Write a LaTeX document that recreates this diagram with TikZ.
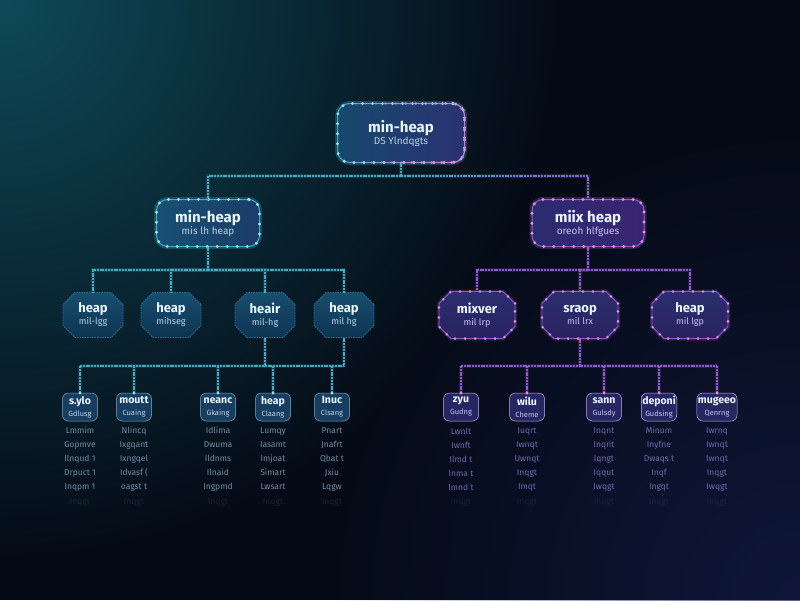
\documentclass[tikz,border=0pt]{standalone}
\usepackage{fontspec}
\setmainfont{Fira Sans}
\usetikzlibrary{shapes.misc,fadings}

\definecolor{bgdark}{HTML}{050B16}
\definecolor{glowteal}{HTML}{0F4A58}
\definecolor{glowblue}{HTML}{141C4A}
\definecolor{cyanln}{HTML}{3FAFC8}
\definecolor{cyandot}{HTML}{8CEBFF}
\definecolor{purpln}{HTML}{9159DA}
\definecolor{purpdot}{HTML}{F08CF0}
\definecolor{pinkln}{HTML}{E070D0}
\definecolor{rootL}{HTML}{16486C}
\definecolor{rootR}{HTML}{2A3272}
\definecolor{lnodeL}{HTML}{185072}
\definecolor{lnodeR}{HTML}{1B3C68}
\definecolor{rnodeL}{HTML}{2A2C70}
\definecolor{rnodeR}{HTML}{3A2472}
\definecolor{tealtop}{HTML}{174E6E}
\definecolor{tealbot}{HTML}{0F3352}
\definecolor{tealedge}{HTML}{2C7590}
\definecolor{violtop}{HTML}{2C2E6E}
\definecolor{violbot}{HTML}{2A2260}
\definecolor{leafteal}{HTML}{173D60}
\definecolor{leafviol}{HTML}{252662}
\definecolor{ttl}{HTML}{EAF6FF}
\definecolor{subtl}{HTML}{B9D3E6}
\definecolor{subvl}{HTML}{C9C2F0}
\definecolor{rowteal}{HTML}{6F8CA6}
\definecolor{rowviol}{HTML}{6C68AC}

\tikzfading[name=glowfade, inner color=transparent!0, outer color=transparent!100]
\tikzfading[name=rightside, left color=transparent!100, right color=transparent!0]

\newcommand\hbig{\fontsize{15}{17}\selectfont\bfseries}
\newcommand\hsub{\fontsize{10}{12}\selectfont}
\newcommand\hmid{\fontsize{13}{15}\selectfont\bfseries}
\newcommand\hmsub{\fontsize{9}{11}\selectfont}
\newcommand\hleaf{\fontsize{10.5}{11.5}\selectfont\bfseries}
\newcommand\hlsub{\fontsize{7.5}{9}\selectfont}
\newcommand\hrow{\fontsize{8.5}{14}\selectfont}

\tikzset{
  base/.style={align=center, inner sep=2pt, outer sep=0pt, text=ttl},
  cyanrim/.style={draw=cyanln, line width=1pt,
    preaction={draw=cyandot, draw opacity=.18, line width=5pt},
    postaction={draw=cyandot, line width=3.2pt, line cap=round, dash pattern=on 0pt off 10pt}},
  purprim/.style={draw=purpln, line width=1pt,
    preaction={draw=purpdot, draw opacity=.18, line width=5pt},
    postaction={draw=purpdot, line width=3.2pt, line cap=round, dash pattern=on 0pt off 10pt}},
  rootbox/.style={base, cyanrim, rounded corners=12pt, minimum width=127pt, minimum height=59pt,
    left color=rootL, right color=rootR},
  lbox/.style={base, cyanrim, rounded corners=11pt, minimum width=103pt, minimum height=47pt,
    left color=lnodeL, right color=lnodeR},
  rbox/.style={base, purprim, rounded corners=11pt, minimum width=112pt, minimum height=47pt,
    left color=rnodeL, right color=rnodeR},
  tealoct/.style={base, chamfered rectangle, chamfered rectangle xsep=6pt, chamfered rectangle ysep=6pt,
    minimum width=60pt, minimum height=45pt,
    top color=tealtop, bottom color=tealbot, draw=tealedge, line width=0.8pt,
    dash pattern=on 1.5pt off 1pt},
  violoct/.style={base, chamfered rectangle, chamfered rectangle xsep=6pt, chamfered rectangle ysep=6pt,
    minimum width=76pt, minimum height=47pt,
    top color=violtop, bottom color=violbot, draw=purpln, line width=0.9pt,
    preaction={draw=purpdot, draw opacity=.15, line width=4pt},
    postaction={draw=purpdot, line width=2.8pt, line cap=round, dash pattern=on 0pt off 10pt}},
  tleaf/.style={base, rounded corners=6pt, minimum width=35pt, minimum height=28pt, inner sep=1pt,
    fill=leafteal, draw=tealedge!60, line width=0.5pt},
  vleaf/.style={base, rounded corners=6pt, minimum width=35pt, minimum height=28pt, inner sep=1pt,
    fill=leafviol, draw=purpln!50, line width=0.5pt},
  trows/.style={align=center, inner sep=0pt, text=rowteal, font=\hrow},
  vrows/.style={align=center, inner sep=0pt, text=rowviol, font=\hrow},
  faintrow/.style={inner sep=0pt, font=\hrow, opacity=.16},
  cconn/.style={draw=cyanln, line width=1.2pt, dash pattern=on 2pt off 0.8pt,
    preaction={draw=cyandot, draw opacity=.12, line width=4pt, solid}},
  pconn/.style={draw=purpln, line width=1.2pt, dash pattern=on 2pt off 0.8pt,
    preaction={draw=purpdot, draw opacity=.12, line width=4pt, solid}},
  cend/.style={circle, fill=cyandot, inner sep=0pt, minimum size=3pt},
  pend/.style={circle, fill=purpdot, inner sep=0pt, minimum size=3pt},
}

\begin{document}
\begin{tikzpicture}[x=1pt, y=-1pt]
  % backdrop with a teal glow top left and a blue glow bottom right
  \useasboundingbox (0,0) rectangle (800,600);
  \fill[bgdark] (0,0) rectangle (800,600);
  \begin{scope}
    \clip (0,0) rectangle (800,600);
    \fill[glowteal, path fading=glowfade] (0,0) circle (560);
    \fill[glowblue, path fading=glowfade, opacity=.7] (800,600) circle (470);
  \end{scope}

  % bus points of the connectors
  \coordinate (busTop) at (401,176);
  \coordinate (busL) at (208,270);
  \coordinate (busR) at (588,270);
  \coordinate (busLL) at (265,366);
  \coordinate (busRR) at (580,366);

  % root
  \node[rootbox] (root) at (401,133) {{\hbig min-heap}\\{\hsub\color{subtl}DS Ylndqgts}};
  \draw[pinkln, line width=1pt, rounded corners=12pt, path fading=rightside]
    (root.south west) rectangle (root.north east);
  \draw[purpdot, line width=3.2pt, line cap=round, dash pattern=on 0pt off 10pt,
    rounded corners=12pt, path fading=rightside]
    (root.south west) rectangle (root.north east);

  % second level
  \node[lbox] (L) at (208,223) {{\hbig min-heap}\\{\hsub\color{subtl}mis lh heap}};
  \node[rbox] (R) at (588,223) {{\hbig miix heap}\\{\hsub\color{subvl}oreoh hlfgues}};

  % third level, teal side
  \node[tealoct] (a1) at (93,315) {{\hmid heap}\\{\hmsub\color{subtl}mil-lgg}};
  \node[tealoct] (a2) at (171,315) {{\hmid heap}\\{\hmsub\color{subtl}mihseg}};
  \node[tealoct] (a3) at (265,315) {{\hmid heair}\\{\hmsub\color{subtl}mil-hg}};
  \node[tealoct] (a4) at (344,315) {{\hmid heap}\\{\hmsub\color{subtl}mil hg}};

  % third level, violet side
  \node[violoct] (b1) at (477,315) {{\hmid mixver}\\{\hmsub\color{subvl}mil lrp}};
  \node[violoct] (b2) at (580,315) {{\hmid sraop}\\{\hmsub\color{subvl}mil lrx}};
  \node[violoct] (b3) at (690,315) {{\hmid heap}\\{\hmsub\color{subvl}mil lgp}};

  % leaves, teal side
  \node[tleaf] (c1) at (80,407) {{\hleaf s.ylo}\\{\hlsub\color{subtl}Gdlusg}};
  \node[tleaf] (c2) at (134,407) {{\hleaf moutt}\\{\hlsub\color{subtl}Cuaing}};
  \node[tleaf] (c3) at (218,407) {{\hleaf neanc}\\{\hlsub\color{subtl}Gkaing}};
  \node[tleaf] (c4) at (273,407) {{\hleaf heap}\\{\hlsub\color{subtl}Claang}};
  \node[tleaf] (c5) at (332,407) {{\hleaf Inuc}\\{\hlsub\color{subtl}Clsang}};

  % leaves, violet side
  \node[vleaf] (d1) at (461,407) {{\hleaf zyu}\\{\hlsub\color{subvl}Gudng}};
  \node[vleaf] (d2) at (527,407) {{\hleaf wilu}\\{\hlsub\color{subvl}Cheme}};
  \node[vleaf] (d3) at (604,407) {{\hleaf sann}\\{\hlsub\color{subvl}Gulsdy}};
  \node[vleaf] (d4) at (659,407) {{\hleaf deponi}\\{\hlsub\color{subvl}Gudsing}};
  \node[vleaf] (d5) at (717,407) {{\hleaf mugeeo}\\{\hlsub\color{subvl}Qenrng}};

  % listings under the leaves
  \node[trows] (r1) at (80,459) {Lmmim\\Gopmve\\Ilnqud 1\\Drpuct 1\\Inqpm 1};
  \node[trows] (r2) at (134,459) {Nlincq\\Ixgqant\\Ixngqel\\Idvasf (\\oagst t};
  \node[trows] (r3) at (218,459) {Idlima\\Dwuma\\Ildnms\\Ilnaid\\Ingpmd};
  \node[trows] (r4) at (273,459) {Lumqy\\Iasamt\\Imjoat\\Simart\\Lwsart};
  \node[trows] (r5) at (332,459) {Pnart\\Jnafrt\\Qbat t\\Jxiu\\Lqgw};
  \node[vrows] (s1) at (461,459) {Lwnlt\\Iwnft\\Ilmd t\\Inma t\\Imnd t};
  \node[vrows] (s2) at (527,459) {Iuqrt\\Iwnqt\\Uwnqt\\Inqgt\\Imqt};
  \node[vrows] (s3) at (604,459) {Inqnt\\Inqnt\\Iqngt\\Iqqut\\Iwqgt};
  \node[vrows] (s4) at (659,459) {Minum\\Inyfne\\Dwaqs t\\Inqf\\Ingqt};
  \node[vrows] (s5) at (717,459) {Iwrnq\\Iwnqt\\Iwnqt\\Inqgt\\Iwqgt};
  \foreach \c/\x in {rowteal/80, rowteal/134, rowteal/218, rowteal/273, rowteal/332,
                     rowviol/461, rowviol/527, rowviol/604, rowviol/659, rowviol/717}
    \node[faintrow, text=\c] at (\x,502) {Inqgt};

  % connectors: root to second level
  \draw[cconn] (root.south) -- (busTop);
  \draw[cconn] (busTop) -| (L.north);
  \draw[cconn] (busTop) -| (R.north);
  \draw[draw=purpln, line width=1.2pt, dash pattern=on 2pt off 0.8pt, path fading=rightside]
    (busTop) -| (R.north);

  % second level to third level
  \draw[cconn] (L.south) -- (busL);
  \foreach \n in {a1,a2,a3,a4} \draw[cconn] (busL) -| (\n.north);
  \draw[pconn] (R.south) -- (busR);
  \foreach \n in {b1,b2,b3} \draw[pconn] (busR) -| (\n.north);

  % third level to leaves
  \draw[cconn] (a3.south) -- (busLL);
  \draw[cconn] (a4.south) -- (a4.south |- busLL);
  \draw[cconn] (c1.north |- busLL) -- (a4.south |- busLL);
  \foreach \n in {c1,c2,c3,c4,c5} {
    \draw[cconn] (\n.north |- busLL) -- (\n.north);
    \node[cend] at (\n.north) {};
  }
  \draw[pconn] (b2.south) -- (busRR);
  \draw[pconn] (d1.north |- busRR) -- (d5.north |- busRR);
  \foreach \n in {d1,d2,d3,d4,d5} {
    \draw[pconn] (\n.north |- busRR) -- (\n.north);
    \node[pend] at (\n.north) {};
  }
\end{tikzpicture}
\end{document}
